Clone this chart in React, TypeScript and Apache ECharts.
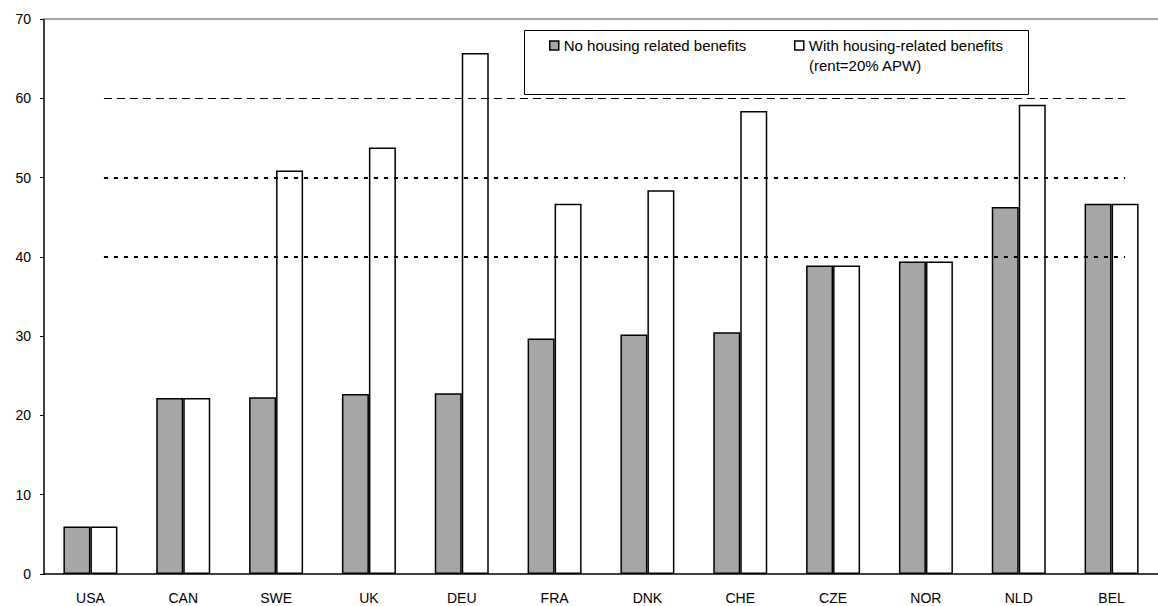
import React, { useEffect, useRef } from "react";
import * as echarts from "echarts";

const categories = ["USA", "CAN", "SWE", "UK", "DEU", "FRA", "DNK", "CHE", "CZE", "NOR", "NLD", "BEL"];
const noHousing = [6.0, 22.2, 22.3, 22.7, 22.8, 29.7, 30.2, 30.5, 38.9, 39.4, 46.3, 46.7];
const withHousing = [6.0, 22.2, 50.9, 53.8, 65.7, 46.7, 48.4, 58.4, 38.9, 39.4, 59.2, 46.7];
const seriesNames = ["No housing related benefits", "With housing-related benefits"];
const legendSubLine = "(rent=20% APW)";
const dashedRef = [60];
const dottedRef = [50, 40];
const yMax = 70;

const FONT = "'Liberation Sans', Arial, sans-serif";

export default function App() {
  const ref = useRef<HTMLDivElement>(null);
  useEffect(() => {
    if (!ref.current) return;
    const chart = echarts.init(ref.current, null, { renderer: "svg" });
    const first = categories[0];
    const last = categories[categories.length - 1];
    const markData: any[] = [
      { yAxis: yMax, lineStyle: { color: "#888888", type: "solid", width: 1.5 } },
      ...dashedRef.map((v) => [
        { coord: [first, v], lineStyle: { color: "#000", type: [8, 5], width: 1 } },
        { coord: [last, v] },
      ]),
      ...dottedRef.map((v) => [
        { coord: [first, v], lineStyle: { color: "#000", type: [4, 6], width: 2 } },
        { coord: [last, v] },
      ]),
    ];
    const legendCommon = {
      top: 38,
      orient: "horizontal",
      icon: "rect",
      itemWidth: 9,
      itemHeight: 9,
      padding: 0,
      selectedMode: false,
      z: 6,
      textStyle: { fontSize: 15, color: "#000", fontFamily: FONT },
      itemStyle: { borderColor: "#000", borderWidth: 1.5 },
    };
    chart.setOption({
      animation: false,
      backgroundColor: "#fff",
      textStyle: { fontFamily: FONT },
      grid: { left: 44, top: 19, right: 0, bottom: 32, containLabel: false },
      legend: [
        { ...legendCommon, left: 549, data: [seriesNames[0]] },
        { ...legendCommon, left: 794, data: [seriesNames[1]] },
      ],
      graphic: [
        {
          type: "rect",
          z: 3,
          shape: { x: 524.5, y: 30.5, width: 504, height: 64 },
          style: { fill: "#fff", stroke: "#000", lineWidth: 1 },
        },
        {
          type: "text",
          z: 6,
          x: 809,
          y: 65,
          style: {
            text: legendSubLine,
            fontSize: 15,
            fontFamily: FONT,
            fill: "#000",
            verticalAlign: "middle",
          },
        },
      ],
      xAxis: {
        type: "category",
        data: categories,
        axisLine: { show: true, lineStyle: { color: "#000", width: 1.5 } },
        axisTick: { show: false },
        axisLabel: { color: "#000", fontSize: 14, margin: 17, fontFamily: FONT },
      },
      yAxis: {
        type: "value",
        min: 0,
        max: yMax,
        interval: 10,
        axisLine: { show: true, lineStyle: { color: "#000", width: 1.5 } },
        axisTick: { show: true, inside: false, length: 4, lineStyle: { color: "#000", width: 1 } },
        axisLabel: { color: "#000", fontSize: 14, margin: 13, fontFamily: FONT },
        splitLine: { show: false },
      },
      series: [
        {
          name: seriesNames[0],
          type: "bar",
          data: noHousing,
          barWidth: 27,
          barGap: "0%",
          itemStyle: { color: "#a6a6a6", borderColor: "#000", borderWidth: 1.5 },
        },
        {
          name: seriesNames[1],
          type: "bar",
          data: withHousing,
          barWidth: 27,
          barGap: "0%",
          itemStyle: { color: "#ffffff", borderColor: "#000", borderWidth: 1.5 },
          markLine: {
            silent: true,
            symbol: "none",
            z: 5,
            label: { show: false },
            data: markData,
          },
        },
      ],
    });
    return () => chart.dispose();
  }, []);
  return (
    <div
      ref={ref}
      style={{ position: "absolute", left: 0, top: 0, width: 1158, height: 606 }}
    />
  );
}
